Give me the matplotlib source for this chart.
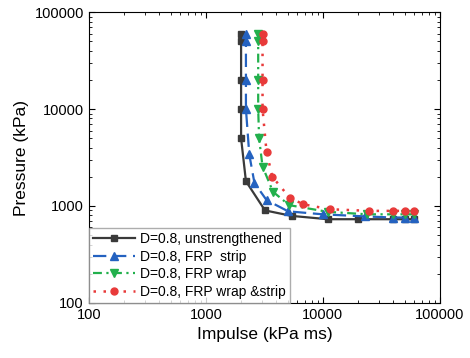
import matplotlib
matplotlib.use("Agg")
import matplotlib.pyplot as plt
from matplotlib.ticker import LogLocator, FixedLocator

plt.rcParams["font.family"] = ["Liberation Sans", "DejaVu Sans"]

# --- Datos ---
x_unstr = [2000, 2000, 2000, 2000, 2000, 2200, 3200, 5400, 11000, 20000, 40000, 50000, 60000]
y_unstr = [60000, 50000, 20000, 10000, 5000, 1800, 900, 790, 730, 730, 730, 730, 730]

x_strip = [2200, 2200, 2200, 2200, 2350, 2600, 3300, 5050, 10000, 23000, 40000, 50000, 60000]
y_strip = [60000, 50000, 20000, 10000, 3400, 1730, 1150, 880, 820, 780, 760, 760, 760]

x_wrap = [2800, 2800, 2800, 2800, 2850, 3050, 3750, 5150, 11000, 24000, 40000, 50000, 60000]
y_wrap = [60000, 50000, 20000, 10000, 5000, 2550, 1400, 1020, 870, 820, 820, 820, 820]

x_both = [3050, 3050, 3050, 3050, 3300, 3700, 5200, 6800, 11500, 25000, 40000, 50000, 60000]
y_both = [60000, 50000, 20000, 10000, 3600, 2000, 1220, 1040, 925, 890, 890, 890, 890]

labels = ["D=0.8, unstrengthened", "D=0.8, FRP  strip",
          "D=0.8, FRP wrap", "D=0.8, FRP wrap &strip"]

# --- Grafico ---
fig = plt.figure(figsize=(4.7, 3.58), dpi=100)
ax = fig.add_axes([0.189, 0.154, 0.747, 0.812])

ax.plot(x_unstr, y_unstr, color="#3a3a3a", ls="-", lw=1.6, marker="s", ms=4.5, label=labels[0])
ax.plot(x_strip, y_strip, color="#2462c0", ls=(0, (6, 3)), lw=1.6, marker="^", ms=5.5, label=labels[1])
ax.plot(x_wrap, y_wrap, color="#22b04c", ls=(0, (4, 2, 1, 2)), lw=1.6, marker="v", ms=5.5, label=labels[2])
ax.plot(x_both, y_both, color="#e83a3a", ls=(0, (1, 3)), lw=1.8, marker="o", ms=5, label=labels[3])

ax.set_xscale("log")
ax.set_yscale("log")
ax.set_xlim(100, 100000)
ax.set_ylim(100, 100000)
ax.xaxis.set_major_locator(FixedLocator([100, 1000, 10000, 100000]))
ax.yaxis.set_major_locator(FixedLocator([100, 1000, 10000, 100000]))
ax.xaxis.set_minor_locator(LogLocator(base=10, subs=range(2, 10)))
ax.yaxis.set_minor_locator(LogLocator(base=10, subs=range(2, 10)))
ax.set_xticklabels(["100", "1000", "10000", "100000"])
ax.set_yticklabels(["100", "1000", "10000", "100000"])
ax.tick_params(which="both", direction="in", top=True, right=True, labelsize=10.5)
ax.tick_params(which="major", length=4)
ax.tick_params(which="minor", length=2)

ax.set_xlabel("Impulse (kPa ms)", fontsize=12.5)
ax.set_ylabel("Pressure (kPa)", fontsize=12.5)

ax.legend(loc="lower left", fontsize=10, frameon=True, fancybox=False,
          edgecolor="#999999", borderaxespad=0.0, handlelength=3,
          labelspacing=0.25, borderpad=0.3, handletextpad=0.4)

plt.savefig("out.png", dpi=100)
